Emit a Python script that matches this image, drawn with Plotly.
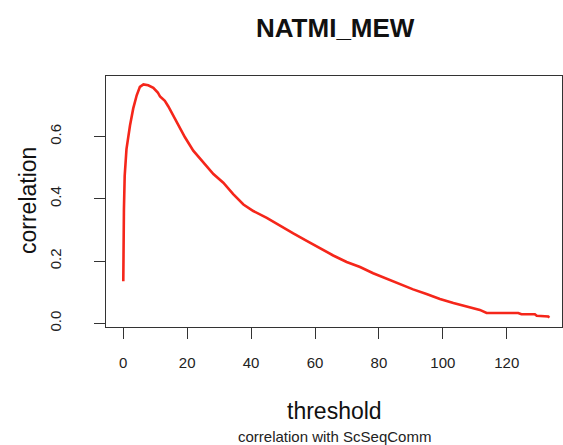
import plotly.graph_objects as go

# ---- data ----
threshold = [0, 0.05, 0.12, 0.2, 0.44, 1.0, 2.1, 3.1, 4.2, 5.2, 6.3, 7.8, 9.4,
             10.8, 11.5, 13.0, 14.1, 16.7, 19.3, 21.9, 25.0, 28.2, 31.3, 34.4,
             37.6, 40.7, 44.9, 49.0, 53.2, 57.4, 61.6, 65.7, 69.9, 74.1, 78.2,
             82.4, 86.6, 90.7, 94.9, 99.1, 103.3, 107.4, 111.6, 113.7, 117.9,
             123.6, 124.6, 128.8, 129.4, 133.0, 133.3]
correlation = [0.135, 0.22, 0.30, 0.366, 0.474, 0.56, 0.636, 0.69, 0.733, 0.76,
               0.768, 0.765, 0.757, 0.742, 0.729, 0.715, 0.697, 0.647, 0.598,
               0.555, 0.517, 0.48, 0.452, 0.415, 0.382, 0.361, 0.339, 0.313,
               0.289, 0.265, 0.240, 0.218, 0.197, 0.181, 0.161, 0.143, 0.127,
               0.109, 0.094, 0.078, 0.065, 0.053, 0.043, 0.033, 0.033, 0.033,
               0.029, 0.029, 0.024, 0.022, 0.018]
x_ticks = [0, 20, 40, 60, 80, 100, 120]
y_ticks = [0.0, 0.2, 0.4, 0.6]
y_tick_labels = ["0.0", "0.2", "0.4", "0.6"]

title_text = "NATMI_MEW"
x_title = "threshold"
y_title = "correlation"
sub_title = "correlation with ScSeqComm"

W, H = 563, 445
L, R, T, B = 106, 1, 76, 118
PW, PH = W - L - R, H - T - B

def px_x(p):
    return (p - L) / PW

def px_y(p):
    return (H - B - p) / PH

FONT = "Liberation Sans, Arial, Helvetica, sans-serif"
AX = "#333333"

fig = go.Figure()
fig.add_trace(go.Scatter(
    x=threshold, y=correlation, mode="lines",
    line=dict(color="#F5261A", width=2.6),
    showlegend=False, hoverinfo="skip",
))

fig.update_layout(
    width=W, height=H,
    margin=dict(l=L, r=R, t=T, b=B, pad=0),
    paper_bgcolor="white", plot_bgcolor="white",
    font=dict(family=FONT, color="#222222"),
    showlegend=False,
)

fig.update_xaxes(
    range=[-5.41, 137.3], tickvals=x_ticks,
    ticks="outside", ticklen=11, tickwidth=1, tickcolor=AX,
    showline=True, linecolor=AX, linewidth=1, mirror=True,
    showgrid=False, zeroline=False,
    tickfont=dict(size=15, family=FONT, color="#222222"),
    ticklabelstandoff=11,
)
fig.update_yaxes(
    range=[-0.0119, 0.795], tickvals=y_ticks, ticktext=y_tick_labels,
    ticks="outside", ticklen=11, tickwidth=1, tickcolor=AX,
    showline=True, linecolor=AX, linewidth=1, mirror=True,
    showgrid=False, zeroline=False, tickangle=-90,
    tickfont=dict(size=15, family=FONT, color="#222222"),
    ticklabelstandoff=27,
)

ann = [
    dict(text=f"<b>{title_text}</b>", x=px_x(335), y=px_y(28),
         font=dict(size=26, family=FONT, color="#111111")),
    dict(text=x_title, x=px_x(334), y=px_y(411),
         font=dict(size=23, family=FONT, color="#111111")),
    dict(text=sub_title, x=px_x(334), y=px_y(436),
         font=dict(size=15, family=FONT, color="#222222")),
    dict(text=y_title, x=px_x(28), y=px_y(201), textangle=-90,
         font=dict(size=23, family=FONT, color="#111111")),
]
for a in ann:
    fig.add_annotation(xref="paper", yref="paper", showarrow=False,
                       xanchor="center", yanchor="middle", **a)

fig.write_html("out.html")
